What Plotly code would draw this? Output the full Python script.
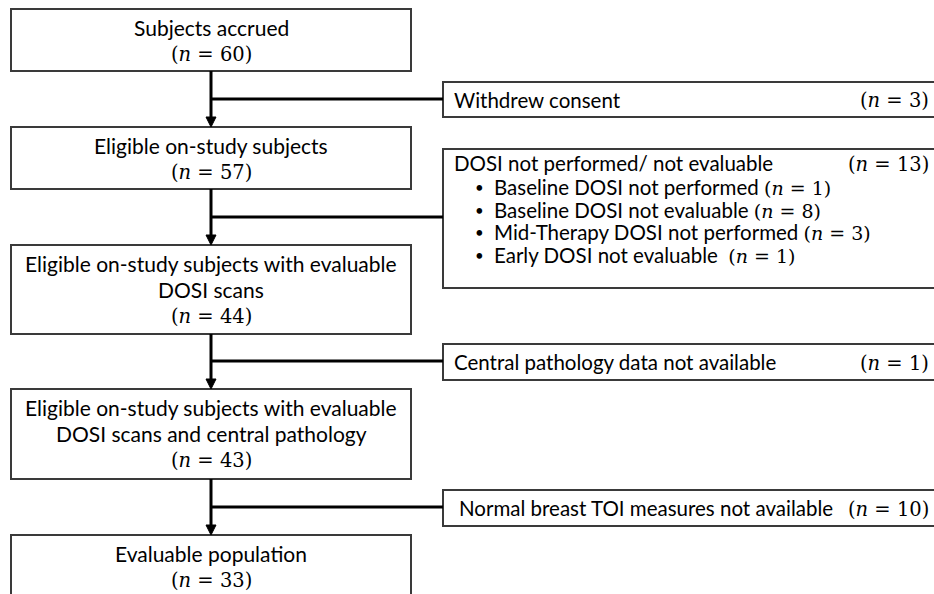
import plotly.graph_objects as go

# ---- data ----
main_labels = [
    ["Subjects accrued"],
    ["Eligible on-study subjects"],
    ["Eligible on-study subjects with evaluable", "DOSI scans"],
    ["Eligible on-study subjects with evaluable", "DOSI scans and central pathology"],
    ["Evaluable population"],
]
main_counts = [60, 57, 44, 43, 33]

excl_labels = [
    "Withdrew consent",
    "DOSI not performed/ not evaluable",
    "Central pathology data not available",
    "Normal breast TOI measures not available",
]
excl_counts = [3, 13, 1, 10]

dosi_reasons = [
    "Baseline DOSI not performed",
    "Baseline DOSI not evaluable",
    "Mid-Therapy DOSI not performed",
    "Early DOSI not evaluable ",
]
dosi_counts = [1, 8, 3, 1]

# ---- layout geometry ----
W, H = 934, 594
MX0, MX1 = 11, 411
MCX = (MX0 + MX1) / 2
main_box_y = [(9, 71), (127, 189), (245, 334), (389, 479), (535, 620)]
branch_y = [99, 217, 361, 507]
EX0, EX1 = 443, 960
excl_box_y = [(82, 117), (149, 288), (344, 380), (490, 526)]
excl_text_x = [452, 452, 452, 457]

SANS = "Lato"
SERIF = "DejaVu Serif"
FS = 21        # main box labels
EFS = 20.5     # exclusion box labels
BFS = 20.5     # bullet labels
MFS = 19.5
BMFS = 19
BORDER = "#3a3a3a"
LINE_PX = 22.5          # bullet line pitch
BASE_FS = LINE_PX / 1.3  # plotly line spacing is 1.3em of the base font


def ntext(n, size=MFS):
    return f'<span style="font-family:{SERIF};font-size:{size}px">(<i>n</i> = {n})</span>'


shapes = []
annotations = []

# main boxes
for (y0, y1), labels, n in zip(main_box_y, main_labels, main_counts):
    shapes.append(dict(type="rect", x0=MX0, x1=MX1, y0=y0, y1=y1,
                       line=dict(color=BORDER, width=2), fillcolor="white", layer="below"))
    for i, lab in enumerate(labels):
        annotations.append(dict(x=MCX, y=y0 + 18 + i * 26, text=lab, showarrow=False,
                                xanchor="center", yanchor="middle",
                                font=dict(family=SANS, size=FS, color="black")))
    annotations.append(dict(x=MCX, y=y0 + 18 + len(labels) * 26 + 1, text=ntext(n),
                            showarrow=False, xanchor="center", yanchor="middle",
                            font=dict(family=SERIF, size=MFS, color="black")))

# arrows between main boxes
for k in range(len(main_box_y) - 1):
    ytop = main_box_y[k][1]
    ybot = main_box_y[k + 1][0]
    shapes.append(dict(type="line", x0=MCX, x1=MCX, y0=ytop, y1=ybot - 9,
                       line=dict(color="black", width=3)))
    shapes.append(dict(type="path",
                       path=f"M {MCX-5},{ybot-10} L {MCX+5},{ybot-10} L {MCX},{ybot} Z",
                       fillcolor="black", line=dict(color="black", width=1)))
    shapes.append(dict(type="line", x0=MCX, x1=EX0, y0=branch_y[k], y1=branch_y[k],
                       line=dict(color="black", width=3)))

# exclusion boxes
for k, ((y0, y1), lab, n) in enumerate(zip(excl_box_y, excl_labels, excl_counts)):
    shapes.append(dict(type="rect", x0=EX0, x1=EX1, y0=y0, y1=y1,
                       line=dict(color=BORDER, width=2), fillcolor="white", layer="below"))
    ty = (y0 + y1) / 2 if k != 1 else y0 + 14
    annotations.append(dict(x=excl_text_x[k], y=ty, text=lab, showarrow=False,
                            xanchor="left", yanchor="middle",
                            font=dict(family=SANS, size=EFS, color="black")))
    annotations.append(dict(x=931, y=ty + 1, text=ntext(n), showarrow=False,
                            xanchor="right", yanchor="middle",
                            font=dict(family=SERIF, size=MFS, color="black")))

# DOSI reasons: one multi-line block for bullets, one for text
y0 = excl_box_y[1][0]
first = y0 + 38
center = first + (len(dosi_reasons) - 1) * LINE_PX / 2
bullet_txt = "<br>".join('<span style="font-size:15px">•</span>' for _ in dosi_reasons)
reason_txt = "<br>".join(
    f'<span style="font-size:{BFS}px">{r} </span>' + ntext(n, BMFS)
    for r, n in zip(dosi_reasons, dosi_counts))
annotations.append(dict(x=479, y=center, text=bullet_txt, showarrow=False,
                        xanchor="center", yanchor="middle", align="center",
                        font=dict(family=SANS, size=BASE_FS, color="black")))
annotations.append(dict(x=492, y=center, text=reason_txt, showarrow=False,
                        xanchor="left", yanchor="middle", align="left",
                        font=dict(family=SANS, size=BASE_FS, color="black")))

fig = go.Figure()
fig.update_layout(
    width=W, height=H,
    margin=dict(l=0, r=0, t=0, b=0),
    paper_bgcolor="white", plot_bgcolor="white",
    xaxis=dict(range=[0, W], visible=False, fixedrange=True),
    yaxis=dict(range=[H, 0], visible=False, fixedrange=True),
    shapes=shapes, annotations=annotations, showlegend=False,
)
fig.write_html("out.html", config={"displayModeBar": False},
               post_script="document.body.style.margin='0';document.body.style.overflow='hidden';")
